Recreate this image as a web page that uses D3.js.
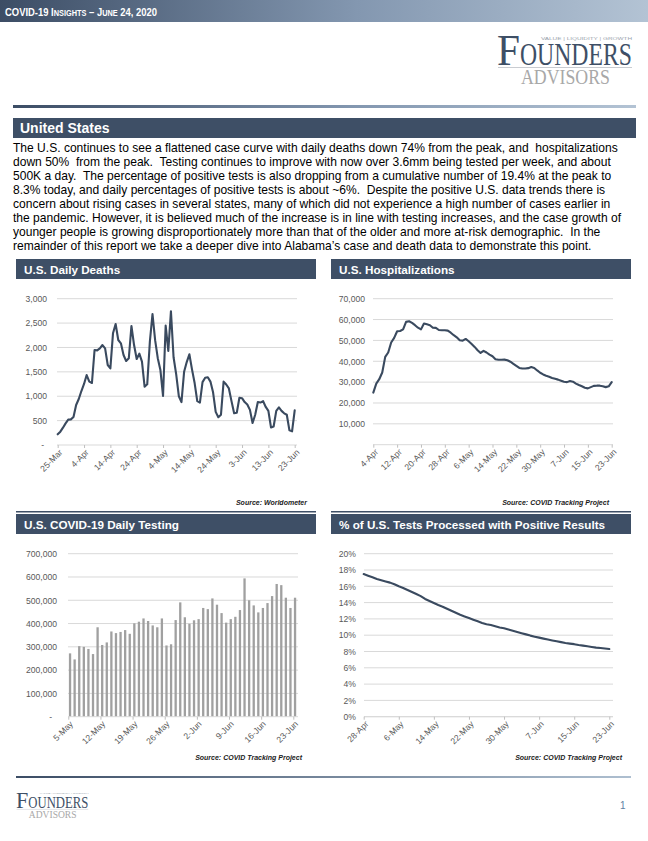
<!DOCTYPE html>
<html>
<head>
<meta charset="utf-8">
<script src="https://cdn.jsdelivr.net/npm/d3@7"></script>
<style>
body { margin: 0; background: #fff; }
svg { display: block; }
text { font-family: "Liberation Sans", Arial, sans-serif; }
</style>
</head>
<body>
<svg id="page"></svg>
<script>
// ---- data ----
const deathsStart = new Date(2020, 2, 25);
const deaths = [220, 273, 355, 444, 520, 526, 574, 820, 943, 1107,
                1251, 1435, 1299, 1271, 1948, 1941, 1982, 2050, 1982, 1640,
                1572, 2290, 2481, 2153, 2085, 1846, 1722, 1777, 2440, 2050,
                1764, 1873, 1709, 1196, 1244, 2119, 2686, 2150, 1780, 1540,
                1005, 2450, 1930, 2740, 1800, 1450, 1000, 880, 1500, 1700,
                1860, 1550, 1270, 900, 870, 1290, 1380, 1390, 1300, 1080,
                680, 570, 620, 1300, 1240, 1160, 900, 650, 660, 970,
                960, 880, 830, 720, 450, 620, 880, 870, 900, 780,
                700, 360, 380, 700, 770, 700, 650, 620, 300, 280, 710];
const deathsTicks = [0, 500, 1000, 1500, 2000, 2500, 3000];

const hospStart = new Date(2020, 3, 4);
const hosp = [25000, 29300, 31400, 34600, 42100, 44200, 49000, 51200, 54400, 54500,
              55300, 58900, 59200, 58400, 57300, 56100, 55300, 58100, 57700, 57300,
              56100, 56000, 55000, 54900, 54900, 54700, 53700, 52500, 51500, 50100,
              49900, 50700, 49600, 48300, 46900, 45300, 44000, 45000, 44200, 43200,
              42400, 41000, 40700, 40700, 40800, 40500, 39800, 38800, 37800, 36800,
              36500, 36500, 36700, 37200, 36800, 35600, 34500, 33700, 33100, 32600,
              32000, 31600, 31200, 30700, 30200, 30000, 30500, 30200, 29300, 28600,
              28000, 27300, 27000, 27600, 28200, 28300, 28300, 28000, 27600, 28000, 30000];
const hospTicks = [10000, 20000, 30000, 40000, 50000, 60000, 70000];

const testStart = new Date(2020, 4, 5);
const tests = [272, 246, 303, 300, 291, 269, 384, 308, 319, 366,
               359, 364, 372, 356, 401, 408, 422, 411, 392, 384,
               422, 306, 311, 415, 491, 427, 399, 414, 419, 467,
               462, 508, 481, 445, 404, 419, 429, 458, 594, 500,
               478, 448, 467, 488, 518, 570, 565, 511, 467, 511]; // thousands
const testTicks = [0, 100, 200, 300, 400, 500, 600, 700];

const posStart = new Date(2020, 3, 28);
const positive = [17.5, 17.3, 17.1, 16.9, 16.75, 16.6, 16.45, 16.25, 16.0, 15.8,
                  15.55, 15.3, 15.05, 14.8, 14.45, 14.2, 13.95, 13.7, 13.5, 13.25,
                  13.0, 12.75, 12.5, 12.3, 12.1, 11.9, 11.7, 11.5, 11.35, 11.25,
                  11.1, 10.95, 10.85, 10.7, 10.55, 10.4, 10.25, 10.1, 9.95, 9.82,
                  9.7, 9.58, 9.47, 9.36, 9.25, 9.15, 9.05, 8.97, 8.9, 8.8,
                  8.72, 8.64, 8.56, 8.48, 8.42, 8.36, 8.3];
const posTicks = [0, 2, 4, 6, 8, 10, 12, 14, 16, 18, 20];

const bodyLines = [
  "The U.S. continues to see a flattened case curve with daily deaths down 74% from the peak, and  hospitalizations",
  "down 50%  from the peak.  Testing continues to improve with now over 3.6mm being tested per week, and about",
  "500K a day.  The percentage of positive tests is also dropping from a cumulative number of 19.4% at the peak to",
  "8.3% today, and daily percentages of positive tests is about ~6%.  Despite the positive U.S. data trends there is",
  "concern about rising cases in several states, many of which did not experience a high number of cases earlier in",
  "the pandemic. However, it is believed much of the increase is in line with testing increases, and the case growth of",
  "younger people is growing disproportionately more than that of the older and more at-risk demographic.  In the",
  "remainder of this report we take a deeper dive into Alabama\u2019s case and death data to demonstrate this point."
];

// ---- page ----
const W = 648, H = 841;
const slate = "#3e4f66";
const lineCol = "#3a4a5f";
const fmtDay = d3.timeFormat("%-d-%b");
const serif = "'Liberation Serif', 'DejaVu Serif', serif";

const svg = d3.select("#page").attr("width", W).attr("height", H);
const defs = svg.append("defs");
const grad = defs.append("linearGradient").attr("id", "hdr");
grad.append("stop").attr("offset", "0%").attr("stop-color", "#3c4d65");
grad.append("stop").attr("offset", "55%").attr("stop-color", "#8397b0");
grad.append("stop").attr("offset", "100%").attr("stop-color", "#b3c3d4");

// header band
svg.append("rect").attr("x", 0).attr("y", 0).attr("width", W).attr("height", 22).attr("fill", "url(#hdr)");
const hdr = svg.append("text").attr("x", 5).attr("y", 15.5)
  .attr("fill", "#fff").attr("font-weight", "bold").attr("font-size", 11)
  .attr("textLength", 152).attr("lengthAdjust", "spacingAndGlyphs");
hdr.append("tspan").text("COVID-19 I");
hdr.append("tspan").attr("font-size", 8.6).text("NSIGHTS");
hdr.append("tspan").text(" \u2013 J");
hdr.append("tspan").attr("font-size", 8.6).text("UNE");
hdr.append("tspan").text(" 24, 2020");

// squeeze a text into a given width by scaling it (keeps its box honest)
function fitText(g, x, y, w, sy, size, fill, family, txt) {
  const t = g.append("text").attr("font-size", size).attr("fill", fill)
    .style("font-family", family).text(txt);
  const n = t.node().getComputedTextLength();
  t.attr("transform", "translate(" + x + "," + y + ") scale(" + (w / n) + "," + sy + ")");
  return t;
}

// logo
function logo(x, y, s) {
  const g = svg.append("g").attr("transform", "translate(" + x + "," + y + ") scale(" + s + ")");
  fitText(g, 44, 4.5, 91, 1, 3.8, "#9aa3ad", "'Liberation Sans', Arial, sans-serif",
          "VALUE  |  LIQUIDITY  |  GROWTH");
  fitText(g, 0, 30, 23, 1.25, 36, slate, serif, "F");
  fitText(g, 23, 30, 112, 1.3, 25, slate, serif, "OUNDERS");
  g.append("line").attr("x1", 1).attr("x2", 135).attr("y1", 32.5).attr("y2", 32.5)
    .attr("stroke", "#c9ccd1").attr("stroke-width", 1);
  fitText(g, 24, 48.5, 89, 1.2, 17, "#a8a8a8", serif, "ADVISORS");
}
logo(497, 35, 1);
logo(16, 792, 0.535);

svg.append("text").attr("x", 620).attr("y", 809).attr("font-size", 10).attr("fill", "#5f7fa3").text("1");

// divider and section band
svg.append("rect").attr("x", 13).attr("y", 105).attr("width", 623).attr("height", 3).attr("fill", "url(#hdr)");
svg.append("rect").attr("x", 13).attr("y", 118).attr("width", 623).attr("height", 20).attr("fill", slate);
svg.append("text").attr("x", 20).attr("y", 133).attr("fill", "#fff").attr("font-weight", "bold")
  .attr("font-size", 14).text("United States");

svg.append("g").selectAll("text").data(bodyLines).join("text")
  .attr("x", 13).attr("y", (d, i) => 151.5 + i * 14)
  .attr("font-size", 12.05).attr("fill", "#000")
  .style("white-space", "pre")
  .text(d => d);

// ---- panel helpers ----
function panel(x, y, w, title) {
  svg.append("rect").attr("x", x).attr("y", y).attr("width", w).attr("height", 20).attr("fill", slate);
  svg.append("text").attr("x", x + 8).attr("y", y + 14.5).attr("fill", "#fff")
    .attr("font-weight", "bold").attr("font-size", 11.7).text(title);
}

function source(xr, y, txt) {
  svg.append("text").attr("x", xr).attr("y", y).attr("text-anchor", "end")
    .attr("font-size", 7).attr("font-style", "italic").attr("font-weight", "bold")
    .attr("fill", "#1a1a1a").text(txt);
}

function grid(x0, x1, y, ticks, labelGap, fmt) {
  const g = svg.append("g");
  g.selectAll("line").data(ticks).join("line")
    .attr("x1", x0).attr("x2", x1)
    .attr("y1", d => y(d)).attr("y2", d => y(d))
    .attr("stroke", "#d9d9d9").attr("stroke-width", 1);
  const ax = svg.append("g").attr("transform", "translate(" + (x0 - labelGap) + ",0)")
    .call(d3.axisLeft(y).tickValues(ticks).tickSize(0).tickPadding(0).tickFormat(fmt));
  ax.select(".domain").remove();
  ax.selectAll("text").attr("fill", "#595959").attr("font-size", 8.6)
    .style("font-family", "'Liberation Sans', Arial, sans-serif");
}

function xAxis(x, y0, x0, x1, ticks) {
  svg.append("line").attr("x1", x0).attr("x2", x1).attr("y1", y0).attr("y2", y0)
    .attr("stroke", "#d9d9d9").attr("stroke-width", 1);
  const ax = svg.append("g").attr("transform", "translate(0," + y0 + ")")
    .call(d3.axisBottom(x).tickValues(ticks).tickSize(3).tickFormat(fmtDay));
  ax.select(".domain").remove();
  ax.selectAll(".tick line").attr("stroke", "#bfbfbf");
  ax.selectAll("text")
    .attr("fill", "#595959").attr("font-size", 8.6)
    .style("font-family", "'Liberation Sans', Arial, sans-serif")
    .style("text-anchor", "end")
    .attr("transform", "rotate(-45)")
    .attr("dx", "-0.25em").attr("dy", "0.35em");
}

function days(start, n) {
  return d3.range(n).map(i => d3.timeDay.offset(start, i));
}

function drawLine(data, x, y, start) {
  const line = d3.line()
    .x((d, i) => x(d3.timeDay.offset(start, i)))
    .y(d => y(d));
  svg.append("path").datum(data)
    .attr("fill", "none").attr("stroke", lineCol)
    .attr("stroke-width", 2.1)
    .attr("stroke-linejoin", "round").attr("stroke-linecap", "round")
    .attr("d", line);
}

// ---- U.S. Daily Deaths ----
panel(16, 259, 300, "U.S. Daily Deaths");
{
  const x = d3.scaleTime().domain([deathsStart, d3.timeDay.offset(deathsStart, 90)]).range([57.7, 294.7]);
  const y = d3.scaleLinear().domain([0, 3000]).range([445, 298.7]);
  grid(57, 297, y, deathsTicks.slice(1), 10, d3.format(","));
  svg.append("text").attr("x", 44).attr("y", y(0) + 3).attr("text-anchor", "end")
    .attr("font-size", 8.6).attr("fill", "#595959").text("-");
  const tk = days(deathsStart, 91).filter((d, i) => i % 10 === 0);
  xAxis(x, 445, 57, 297, tk);
  drawLine(deaths, x, y, deathsStart);
}
source(307, 505, "Source: Worldometer");
svg.append("rect").attr("x", 16).attr("y", 511).attr("width", 300).attr("height", 1.5).attr("fill", slate);

// ---- U.S. Hospitalizations ----
panel(331, 259, 300, "U.S. Hospitalizations");
{
  const x = d3.scaleTime().domain([hospStart, d3.timeDay.offset(hospStart, 80)]).range([373.3, 611.7]);
  const y = d3.scaleLinear().domain([0, 70000]).range([444.7, 298.7]);
  grid(373, 613, y, hospTicks, 8, d3.format(","));
  const tk = days(hospStart, 81).filter((d, i) => i % 8 === 0);
  xAxis(x, 444.7, 373, 613, tk);
  drawLine(hosp, x, y, hospStart);
}
source(609, 505, "Source: COVID Tracking Project");
svg.append("rect").attr("x", 331).attr("y", 511).attr("width", 300).attr("height", 1.5).attr("fill", slate);

// ---- U.S. COVID-19 Daily Testing ----
panel(16, 514, 300, "U.S. COVID-19 Daily Testing");
{
  const x = d3.scaleTime().domain([testStart, d3.timeDay.offset(testStart, 49)]).range([68.3, 293.3]);
  const y = d3.scaleLinear().domain([0, 700]).range([716.7, 553.7]);
  grid(68, 298, y, testTicks.slice(1), 11, d => d3.format(",")(d * 1000));
  svg.append("text").attr("x", 52).attr("y", y(0) + 3).attr("text-anchor", "end")
    .attr("font-size", 8.6).attr("fill", "#595959").text("-");
  svg.append("g").selectAll("rect").data(tests).join("rect")
    .attr("x", (d, i) => x(d3.timeDay.offset(testStart, i)) + 0.6)
    .attr("width", 2.3)
    .attr("y", d => y(d))
    .attr("height", d => y(0) - y(d))
    .attr("fill", "#a0a0a0");
  const tk = days(testStart, 50).filter((d, i) => i % 7 === 0);
  xAxis(x, 716.7, 68, 298, tk);
}
source(302, 760, "Source: COVID Tracking Project");

// ---- % Positive ----
panel(331, 514, 300, "% of U.S. Tests Processed with Positive Results");
{
  const x = d3.scaleTime().domain([posStart, d3.timeDay.offset(posStart, 56)]).range([363.7, 609.3]);
  const y = d3.scaleLinear().domain([0, 20]).range([716.7, 553.7]);
  grid(364, 613, y, posTicks, 8, d => d + "%");
  const tk = days(posStart, 57).filter((d, i) => i % 8 === 0);
  xAxis(x, 716.7, 364, 613, tk);
  drawLine(positive, x, y, posStart);
}
source(622, 760, "Source: COVID Tracking Project");

const grad2 = defs.append("linearGradient").attr("id", "foot");
grad2.append("stop").attr("offset", "0%").attr("stop-color", "#3c4d65");
grad2.append("stop").attr("offset", "100%").attr("stop-color", "#aebfd0");
svg.append("rect").attr("x", 16).attr("y", 776).attr("width", 615).attr("height", 2).attr("fill", "url(#foot)");
</script>
</body>
</html>
